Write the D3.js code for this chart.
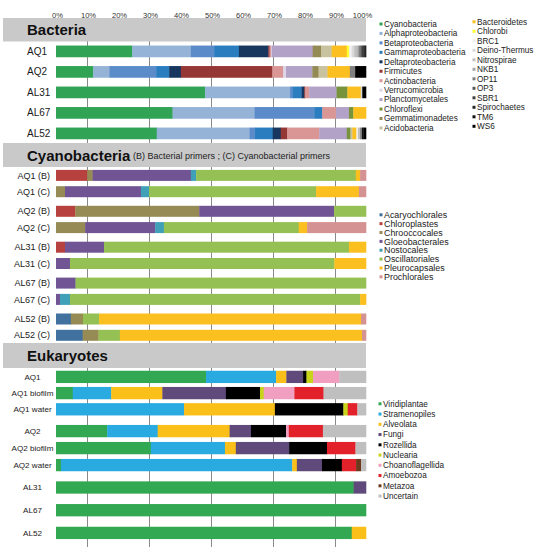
<!DOCTYPE html>
<html><head><meta charset="utf-8">
<script src="https://cdn.jsdelivr.net/npm/d3@7"></script>
<style>
body{margin:0;background:#fff}
svg{display:block}
text{font-family:"Liberation Sans",Arial,sans-serif}
</style>
</head><body><svg id="chart" width="537" height="551"></svg>
<script>
// ---------- DATA ----------
const tickValues = [0, 10, 20, 30, 40, 50, 60, 70, 80, 90, 100];
const gridValues = [10, 30, 50, 70, 90];

const bacSamples = ["AQ1", "AQ2", "AL31", "AL67", "AL52"];
const bacTaxa = ["Cyanobacteria","Alphaproteobacteria","Betaproteobacteria","Gammaproteobacteria","Deltaproteobacteria","Firmicutes","Actinobacteria","Verrucomicrobia","Planctomycetales","Chloroflexi","Gemmatimonadetes","Acidobacteria","Bacteroidetes","Chlorobi","BRC1","Deino-Thermus","Nitrospirae","NKB1","OP11","OP3","SBR1","Spirochaetes","TM6","WS6"];
const bacColors = ["#31a354","#95b3d7","#5b8bc9","#2a7ec0","#17375e","#953735","#d99694","#ddd5e8","#b3a2c7","#77933c","#948a54","#c9c29f","#fbbf1f","#ffff33","#f0f0f0","#d9d9d9","#bfbfbf","#a6a6a6","#7f7f7f","#595959","#404040","#262626","#111111","#000000"];
const bacAQ1  = [24.6,18.9,7.5,8.0,9.5,0.4,0.5,0.2,13.2,0,2.7,3.4,4.9,0.8,0.8,0.8,1.0,0.5,0.6,0.4,0.4,0.4,0.3,0.2];
const bacAQ2  = [12.0,5.2,15.1,4.2,3.8,29.5,3.5,0.9,8.5,0,2.0,2.9,7.2,0,0,0,0,0,1.7,0,0,0,0,3.5];
const bacAL31 = [48.1,27.4,0.8,2.9,0.9,0.3,1.3,0,8.8,3.5,0,0,4.3,0,0,0.5,0,0,0,0,0,0,0,1.2];
const bacAL67 = [37.6,26.4,19.3,2.6,0,0,4.4,0,4.2,1.4,0,0,4.1,0,0,0,0,0,0,0,0,0,0,0];
const bacAL52 = [32.5,29.9,1.8,5.7,2.6,2.1,10.3,0,8.9,1.2,0,0.6,1.3,0,0.5,0,0.7,0,0.6,0,0,0,0.5,0.8];

const cyaSamples = ["AQ1 (B)","AQ1 (C)","AQ2 (B)","AQ2 (C)","AL31 (B)","AL31 (C)","AL67 (B)","AL67 (C)","AL52 (B)","AL52 (C)"];
const cyaTaxa = ["Acaryochlorales","Chloroplastes","Chrooccocales","Gloeobacterales","Nostocales","Oscillatoriales","Pleurocapsales","Prochlorales"];
const cyaColors = ["#41719f","#b7413f","#968b55","#705494","#3fa0b8","#95c053","#fbbf1f","#d59292"];
const cyaAQ1B  = [0,10.1,1.7,31.7,1.7,51.5,1.4,1.9];
const cyaAQ1C  = [0,0,2.9,24.5,2.6,53.9,13.8,2.3];
const cyaAQ2B  = [0,6.2,40.0,43.5,0,10.3,0,0];
const cyaAQ2C  = [0,0,9.4,22.6,2.8,43.5,2.7,19.0];
const cyaAL31B = [0,2.9,0,12.6,0,79.0,5.5,0];
const cyaAL31C = [0,0,0,4.5,0,85.3,10.2,0];
const cyaAL67B = [0,0,0,6.3,0,93.7,0,0];
const cyaAL67C = [0,0,0,1.3,3.2,93.6,1.9,0];
const cyaAL52B = [4.8,0,3.9,0,0,5.2,84.5,1.6];
const cyaAL52C = [8.6,0,5.1,0,0,6.9,78.1,1.3];

const eukSamples = ["AQ1","AQ1 biofilm","AQ1 water","AQ2","AQ2 biofilm","AQ2 water","AL31","AL67","AL52"];
const eukTaxa = ["Viridiplantae","Stramenopiles","Alveolata","Fungi","Rozellida","Nuclearia","Choanoflagellida","Amoebozoa","Metazoa","Uncertain"];
const eukColors = ["#33a852","#29abe2","#fbbf1a","#5f4a7b","#000000","#c8d41a","#f09fc0","#e3212b","#6b3a1e","#bfbfbf"];
const eukAQ1   = [48.4,22.6,3.3,5.4,1.1,2.1,8.5,0,0,8.6];
const eukAQ1bf = [5.4,12.4,16.5,20.5,11.0,1.2,9.9,9.4,0,13.7];
const eukAQ1w  = [0,41.3,29.3,0,22.1,1.4,0,3.1,0,2.8];
const eukAQ2   = [16.5,16.3,23.2,6.9,11.3,0,0.9,11.0,0,13.9];
const eukAQ2bf = [30.6,23.9,3.5,17.2,12.2,0,0,9.2,0,3.4];
const eukAQ2w  = [1.6,74.6,1.5,8.1,6.4,0,0,4.6,1.6,1.6];
const eukAL31  = [96.0,0,0,4.0,0,0,0,0,0,0];
const eukAL67  = [100,0,0,0,0,0,0,0,0,0];
const eukAL52  = [95.4,0,4.6,0,0,0,0,0,0,0];

// ---------- LAYOUT ----------
const svg = d3.select("#chart");
const x = d3.scaleLinear().domain([0, 100]).range([56, 366]);

const gGrid = svg.append("g");
gGrid.selectAll("line").data(gridValues).join("line")
  .attr("x1", d => Math.round(x(d)) + 0.5).attr("x2", d => Math.round(x(d)) + 0.5)
  .attr("y1", 18).attr("y2", 547)
  .attr("stroke", "#8a8a8a").attr("stroke-width", 1);

// axis labels
const axis = d3.axisTop(x).tickValues(tickValues).tickSize(0).tickPadding(0)
  .tickFormat(d => d + "%");
const gAxis = svg.append("g").attr("transform", "translate(0,18)").call(axis);
gAxis.select(".domain").remove();
gAxis.selectAll("text").attr("font-size", 7.6).attr("fill", "#333")
  .attr("font-family", "Liberation Sans, Arial, sans-serif")
  .attr("dx", d => d === 100 ? -4 : 1);

function header(y0, y1, title, sub) {
  svg.append("rect").attr("x", 3).attr("y", y0).attr("width", 363).attr("height", y1 - y0)
    .attr("fill", "#c9c9ca");
  svg.append("text").attr("x", 27).attr("y", (y0 + y1) / 2 + 5.5)
    .attr("font-size", 15).attr("font-weight", "bold").attr("fill", "#111").text(title);
  if (sub) svg.append("text").attr("x", 133).attr("y", (y0 + y1) / 2 + 3.5)
    .attr("font-size", 9).attr("fill", "#222").text(sub);
}

function section(samples, taxa, colors, values, yOf, barH, labelOpts) {
  const rows = samples.map((s, i) => {
    const o = { sample: s, idx: i };
    taxa.forEach((t, j) => o[t] = values[i][j]);
    return o;
  });
  const series = d3.stack().keys(taxa)(rows);
  const color = d3.scaleOrdinal().domain(taxa).range(colors);
  const g = svg.append("g");
  g.selectAll("g").data(series).join("g").attr("fill", d => color(d.key))
    .selectAll("rect").data(d => d.filter(e => e[1] - e[0] > 0)).join("rect")
    .attr("x", d => x(d[0])).attr("width", d => x(d[1]) - x(d[0]) + 0.3)
    .attr("y", d => yOf(d.data.idx) - barH / 2).attr("height", barH);
  g.selectAll("text.lbl").data(rows).join("text").attr("class", "lbl")
    .attr("x", labelOpts.x).attr("y", d => yOf(d.idx)).attr("dy", "0.35em")
    .attr("text-anchor", labelOpts.anchor).attr("font-size", labelOpts.size)
    .attr("fill", "#1a1a1a").text(d => d.sample);
}

function legend(items, colors, x0, y0, step, size) {
  const g = svg.append("g");
  const it = g.selectAll("g").data(items).join("g")
    .attr("transform", (d, i) => `translate(${x0},${y0 + i * step})`);
  it.append("rect").attr("x", -1.5).attr("y", -1.5).attr("width", 3).attr("height", 3)
    .attr("fill", (d, i) => colors[i]);
  it.append("text").attr("x", 3).attr("dy", "0.35em").attr("font-size", size)
    .attr("fill", "#222").text(d => d);
}

// Bacteria
header(18, 41.5, "Bacteria");
const bacY = d3.scaleLinear().domain([0, 4]).range([51.4, 133.4]);
section(bacSamples, bacTaxa, bacColors, [bacAQ1, bacAQ2, bacAL31, bacAL67, bacAL52],
  i => bacY(i), 11.7, { x: 27, anchor: "start", size: 10 });
legend(bacTaxa.slice(0, 12), bacColors.slice(0, 12), 381, 24, 9.45, 8.2);
legend(bacTaxa.slice(12), bacColors.slice(12), 474, 21.8, 9.5, 8.2);

// Cyanobacteria
header(143, 167, "Cyanobacteria", "(B) Bacterial primers ; (C) Cyanobacterial primers");
const cyaY = i => 175.4 + i * 16.3 + Math.floor(i / 2) * 3.3;
section(cyaSamples, cyaTaxa, cyaColors,
  [cyaAQ1B, cyaAQ1C, cyaAQ2B, cyaAQ2C, cyaAL31B, cyaAL31C, cyaAL67B, cyaAL67C, cyaAL52B, cyaAL52C],
  cyaY, 11, { x: 50, anchor: "end", size: 9 });
legend(cyaTaxa, cyaColors, 381, 214.8, 8.86, 8.9);

// Eukaryotes
header(343, 368, "Eukaryotes");
const eukGroups = [{ y0: 376.9, step: 16.2 }, { y0: 431.1, step: 17 }, { y0: 487.5, step: 22.7 }];
const eukY = i => { const g = eukGroups[Math.floor(i / 3)]; return g.y0 + (i % 3) * g.step; };
section(eukSamples, eukTaxa, eukColors,
  [eukAQ1, eukAQ1bf, eukAQ1w, eukAQ2, eukAQ2bf, eukAQ2w, eukAL31, eukAL67, eukAL52],
  eukY, 12.3, { x: 32.5, anchor: "middle", size: 8.1 });
legend(eukTaxa, eukColors, 380, 403.8, 10.25, 8.2);
</script>
</body></html>
